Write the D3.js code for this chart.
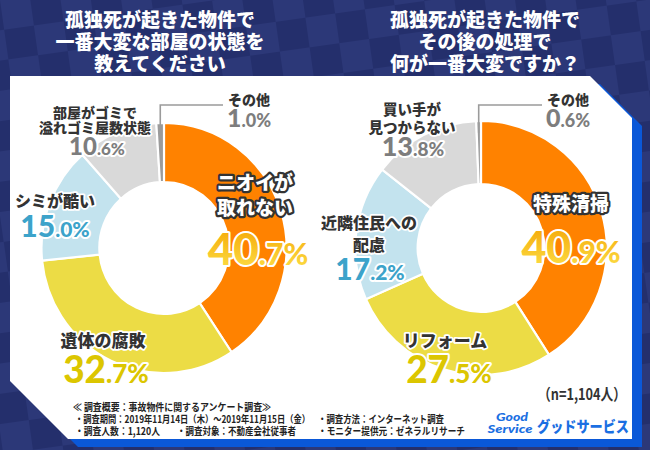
<!DOCTYPE html>
<html><head><meta charset="utf-8">
<script src="https://cdn.jsdelivr.net/npm/d3@7"></script>
<style>html,body{margin:0;padding:0;background:#242f6c;}svg{display:block}</style>
</head><body>
<svg id="c" width="650" height="450"></svg>
<script>
// ---------- data ----------
const leftTitle = ["孤独死が起きた物件で", "一番大変な部屋の状態を", "教えてください"];
const rightTitle = ["孤独死が起きた物件で", "その後の処理で", "何が一番大変ですか？"];
const leftCategories = [["ニオイが", "取れない"], ["遺体の腐敗"], ["シミが酷い"], ["部屋がゴミで", "溢れゴミ屋数状態"], ["その他"]];
const leftValues = [40.7, 32.7, 15.0, 10.6, 1.0];
const rightCategories = [["特殊清掃"], ["リフォーム"], ["近隣住民への", "配慮"], ["買い手が", "見つからない"], ["その他"]];
const rightValues = [40.9, 27.5, 17.2, 13.8, 0.6];
const sampleNote = "（n=1,104人）";
const footerHead = "≪ 調査概要：事故物件に関するアンケート調査≫";
const footerRow1 = ["・調査期間：2019年11月14日（木）～2019年11月15日（金）", "・調査方法：インターネット調査"];
const footerRow2 = ["・調査人数：1,120人", "・調査対象：不動産会社従事者", "・モニター提供元：ゼネラルリサーチ"];
const logoWords = ["Good", "Service", "グッドサービス"];

// ---------- styles / layout ----------
const sliceColors = ["#ff8200", "#ecdc45", "#c3e3ee", "#d9d9d9", "#9b9b9b"];
const numColors = ["url(#numGrad)", "#dcc600", "#3ca3ca", "#7d7d7d", "#7d7d7d"];
const JP = "'Noto Sans CJK JP','Noto Sans',sans-serif";
const NUM = "Lato,'Open Sans',sans-serif";

const svg = d3.select("#c");
const defs = svg.append("defs");
const pat = defs.append("pattern").attr("id", "chk").attr("patternUnits", "userSpaceOnUse")
  .attr("width", 60).attr("height", 60).attr("patternTransform", "rotate(-8)");
pat.append("rect").attr("width", 60).attr("height", 60).attr("fill", "#242f6c");
pat.append("rect").attr("width", 30).attr("height", 30).attr("fill", "#2c3878");
pat.append("rect").attr("x", 30).attr("y", 30).attr("width", 30).attr("height", 30).attr("fill", "#2c3878");
const g1 = defs.append("linearGradient").attr("id", "numGrad").attr("x1", 0).attr("y1", 0).attr("x2", 0).attr("y2", 1);
g1.append("stop").attr("offset", "0%").attr("stop-color", "#f4a200");
g1.append("stop").attr("offset", "100%").attr("stop-color", "#fde24a");

svg.append("rect").attr("width", 650).attr("height", 450).attr("fill", "url(#chk)");

// panel
const panel = [[10, 76], [590, 76], [632, 118], [632, 439], [68, 439], [10, 381]];
const line = d3.line();
svg.append("path").attr("d", line(panel.map(p => [p[0] + 10, p[1] + 8])) + "Z").attr("fill", "#0a58d8");
svg.append("path").attr("d", line(panel) + "Z").attr("fill", "#ffffff");

// titles
function title(lines, cx) {
  const t = svg.append("text").attr("text-anchor", "middle").attr("font-family", JP)
    .attr("font-weight", 900).attr("font-size", 19).attr("fill", "#fff");
  lines.forEach((s, i) => t.append("tspan").attr("x", cx).attr("y", 27 + i * 22).text(s));
}
title(leftTitle, 160);
title(rightTitle, 485);

// donuts
const pie = d3.pie().sort(null).value(d => d).startAngle(0).endAngle(2 * Math.PI);

function donut(values, cats, cx, cy, rOuter, rInner, sx, labels) {
  const g = svg.append("g").attr("transform", `translate(${cx},${cy})`);
  const arcs = pie(values);
  const arc = d3.arc().innerRadius(rInner).outerRadius(rOuter);
  g.append("g").attr("transform", `scale(${sx},1)`)
    .selectAll("path.s").data(arcs).enter().append("path").attr("class", "s")
    .attr("d", arc).attr("fill", (d, i) => sliceColors[i])
    .attr("stroke", "#fff").attr("stroke-width", 2.2).attr("stroke-linejoin", "miter");

  // leader for last (small) slice
  const last = arcs[arcs.length - 1];
  const mid = (last.startAngle + last.endAngle) / 2 - 2 * Math.PI;
  const lx = rOuter * sx * Math.sin(mid) * 0.97;
  const ly = -rOuter * Math.cos(mid) + 12;
  const L = labels[labels.length - 1];
  g.append("path").attr("d", line([[lx, ly], [lx, -143], [L.lead, -143]]))
    .attr("fill", "none").attr("stroke", "#9b9b9b").attr("stroke-width", 1.6);

  arcs.forEach((d, i) => {
    const lb = labels[i];
    const nameT = g.append("text").attr("text-anchor", "middle").attr("font-family", JP)
      .attr("font-weight", 900).attr("font-size", lb.fs)
      .attr("fill", i === 0 ? "#fff" : "#333")
      .attr("stroke", i === 0 ? "#333" : "#fff").attr("stroke-width", i === 0 ? 4.5 : 3.5)
      .attr("stroke-linejoin", "round").attr("paint-order", "stroke");
    cats[i].forEach((s, k) => nameT.append("tspan").attr("x", lb.x).attr("y", lb.y + k * lb.lh).text(s));
    const str = values[i].toFixed(1);
    const [ip, dp] = str.split(".");
    const numT = g.append("text").attr("text-anchor", "middle").attr("font-family", NUM)
      .attr("font-weight", 900).attr("x", lb.nx).attr("y", lb.ny)
      .attr("fill", numColors[i]).attr("stroke", "#fff").attr("stroke-width", 4)
      .attr("stroke-linejoin", "round").attr("paint-order", "stroke");
    numT.append("tspan").attr("font-size", lb.big).text(ip);
    numT.append("tspan").attr("font-size", lb.small).text("." + dp + "%");
  });
}

donut(leftValues, leftCategories, 164, 248, 125, 66, 0.98, [
  { x: 91, y: -58, lh: 25, fs: 19, nx: 94, ny: 17, big: 44, small: 30 },
  { x: -61, y: 99, lh: 0, fs: 17, nx: -58, ny: 135, big: 37, small: 26 },
  { x: -109, y: -41, lh: 0, fs: 16, nx: -109, ny: -11, big: 30, small: 21 },
  { x: -69, y: -130, lh: 15, fs: 14, nx: -67, ny: -93, big: 24, small: 17 },
  { x: 85, y: -143, lh: 0, fs: 14, nx: 85, ny: -121, big: 25, small: 18, lead: 59 }
]);
donut(rightValues, rightCategories, 481, 248, 127, 64, 0.99, [
  { x: 90, y: -37, lh: 0, fs: 19, nx: 90, ny: 15, big: 43, small: 30 },
  { x: -36, y: 99, lh: 0, fs: 17, nx: -32, ny: 135, big: 37, small: 26 },
  { x: -112, y: -19, lh: 22, fs: 16, nx: -111, ny: 32, big: 30, small: 21 },
  { x: -69, y: -133, lh: 18, fs: 14.5, nx: -68, ny: -92, big: 27, small: 19 },
  { x: 87, y: -143, lh: 0, fs: 14, nx: 87, ny: -121, big: 25, small: 18, lead: 61 }
]);

// sample note
svg.append("text").attr("x", 626).attr("y", 400).attr("text-anchor", "end")
  .attr("font-family", JP).attr("font-weight", 700).attr("font-size", 16).attr("fill", "#333")
  .attr("textLength", 88).attr("lengthAdjust", "spacingAndGlyphs").text(sampleNote);

// footer
function ft(s, x, y, len) {
  svg.append("text").attr("x", x).attr("y", y).attr("font-family", JP).attr("font-weight", 700)
    .attr("font-size", 10).attr("fill", "#222").attr("textLength", len)
    .attr("lengthAdjust", "spacingAndGlyphs").text(s);
}
ft(footerHead, 73, 411, 198);
ft(footerRow1[0], 75, 423, 235);
ft(footerRow1[1], 318, 423, 126);
ft(footerRow2[0], 75, 435, 85);
ft(footerRow2[1], 177, 435, 119);
ft(footerRow2[2], 318, 435, 147);

// logo
const lg = svg.append("g").attr("fill", "#1b6fe2");
lg.append("text").attr("x", 512).attr("y", 421).attr("text-anchor", "middle").attr("font-family", NUM)
  .attr("font-style", "italic").attr("font-weight", 900).attr("font-size", 12).attr("textLength", 32)
  .attr("lengthAdjust", "spacingAndGlyphs").text(logoWords[0]);
lg.append("text").attr("x", 510).attr("y", 433).attr("text-anchor", "middle").attr("font-family", NUM)
  .attr("font-style", "italic").attr("font-weight", 900).attr("font-size", 12).attr("textLength", 45)
  .attr("lengthAdjust", "spacingAndGlyphs").text(logoWords[1]);
lg.append("text").attr("x", 537).attr("y", 432).attr("font-family", JP)
  .attr("font-weight", 900).attr("font-size", 15).attr("textLength", 92)
  .attr("lengthAdjust", "spacingAndGlyphs").text(logoWords[2]);
</script>
</body></html>
